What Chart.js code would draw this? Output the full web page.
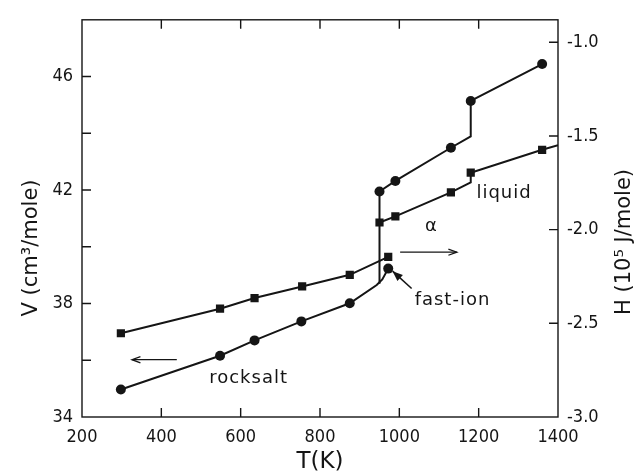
<!DOCTYPE html>
<html>
<head>
<meta charset="utf-8">
<script src="https://cdn.jsdelivr.net/npm/chart.js@4/dist/chart.umd.min.js"></script>
<style>
html,body{margin:0;background:#fff}
#c{display:block}
</style>
</head>
<body>
<canvas id="c" width="636" height="472"></canvas>
<script>
// volume, rocksalt -> fast-ion branch (circles, left axis); 0 = no marker
const solidT   = [298, 548, 635, 753, 875, 943, 957, 972];
const solidV   = [34.97, 36.16, 36.70, 37.37, 38.01, 38.65, 38.85, 39.23];
const solidVPt = [1, 1, 1, 1, 1, 0, 0, 1];
// volume, liquid branch
const liqT   = [950, 950, 990, 1130, 1180, 1180, 1360];
const liqV   = [38.70, 41.95, 42.32, 43.49, 43.89, 45.14, 46.44];
const liqVPt = [0, 1, 1, 1, 0, 1, 1];
// enthalpy (squares, right axis)
const solidHT = [298, 548, 635, 755, 875, 972];
const solidH  = [-2.553, -2.422, -2.365, -2.303, -2.241, -2.145];
const liqHT  = [950, 990, 1130, 1180, 1180, 1360, 1400];
const liqH   = [-1.962, -1.929, -1.801, -1.748, -1.696, -1.574, -1.550];
const liqHPt = [1, 1, 1, 0, 1, 1, 0];

const tTicks = [200, 400, 600, 800, 1000, 1200, 1400];
const vTicks = [34, 36, 38, 40, 42, 44, 46];
const vLabels = [34, 38, 42, 46];
const hTicks = [-3.0, -2.5, -2.0, -1.5, -1.0];

const INK = '#151515';
const FONT = '"DejaVu Sans Condensed", "DejaVu Sans", sans-serif';
const WIDE = '"DejaVu Sans", sans-serif';

const pts = (T, Y) => T.map((t, i) => ({x: t, y: Y[i]}));

function line(T, Y, marks, axis, style, r) {
  return {
    data: pts(T, Y),
    yAxisID: axis,
    borderColor: INK,
    backgroundColor: INK,
    borderWidth: 2,
    tension: 0,
    pointStyle: style,
    pointRadius: marks ? marks.map(m => m ? r : 0) : r,
    pointBorderWidth: 0,
    pointBackgroundColor: INK
  };
}

function arrow(ctx, x1, y1, x2, y2, filled) {
  const a = Math.atan2(y2 - y1, x2 - x1);
  ctx.beginPath();
  ctx.moveTo(x1, y1);
  ctx.lineTo(x2, y2);
  ctx.stroke();
  if (filled) {
    const L = 11, W = 0.38;
    ctx.beginPath();
    ctx.moveTo(x2, y2);
    ctx.lineTo(x2 - L * Math.cos(a - W), y2 - L * Math.sin(a - W));
    ctx.lineTo(x2 - L * Math.cos(a + W), y2 - L * Math.sin(a + W));
    ctx.closePath();
    ctx.fill();
  } else {
    const L = 9, W = 0.35;
    ctx.beginPath();
    ctx.moveTo(x2 - L * Math.cos(a - W), y2 - L * Math.sin(a - W));
    ctx.lineTo(x2, y2);
    ctx.lineTo(x2 - L * Math.cos(a + W), y2 - L * Math.sin(a + W));
    ctx.stroke();
  }
}

// frame, inward tick marks, axis titles and the in-plot notes
const decor = {
  id: 'decor',
  afterDraw(chart) {
    const {ctx, chartArea: ca, scales} = chart;
    const x = scales.x, yV = scales.yV, yH = scales.yH;
    const tl = 9;
    ctx.save();
    ctx.strokeStyle = INK;
    ctx.fillStyle = INK;
    ctx.lineWidth = 1.4;
    ctx.strokeRect(ca.left, ca.top, ca.right - ca.left, ca.bottom - ca.top);
    ctx.beginPath();
    tTicks.slice(1, -1).forEach(v => {
      const px = x.getPixelForValue(v);
      ctx.moveTo(px, ca.bottom); ctx.lineTo(px, ca.bottom - tl);
      ctx.moveTo(px, ca.top); ctx.lineTo(px, ca.top + tl);
    });
    vTicks.slice(1).forEach(v => {
      const py = yV.getPixelForValue(v);
      ctx.moveTo(ca.left, py); ctx.lineTo(ca.left + tl, py);
    });
    hTicks.slice(1).forEach(v => {
      const py = yH.getPixelForValue(v);
      ctx.moveTo(ca.right, py); ctx.lineTo(ca.right - tl, py);
    });
    ctx.stroke();

    // axis titles
    ctx.textAlign = 'center';
    ctx.textBaseline = 'middle';
    ctx.font = '21px ' + WIDE;
    ctx.save();
    ctx.translate(32, 248);
    ctx.rotate(-Math.PI / 2);
    ctx.fillText('V (cm³/mole)', 0, 0);
    ctx.restore();
    ctx.save();
    ctx.translate(625, 242);
    ctx.rotate(-Math.PI / 2);
    ctx.fillText('H (10⁵ J/mole)', 0, 0);
    ctx.restore();
    ctx.font = '23px ' + WIDE;
    ctx.fillText('T(K)', (ca.left + ca.right) / 2, 462);

    // notes placed in data coordinates
    const X = t => x.getPixelForValue(t), Y = v => yV.getPixelForValue(v);
    ctx.font = '18px ' + WIDE;
    ctx.letterSpacing = '1px';
    ctx.textBaseline = 'alphabetic';
    ctx.fillText('rocksalt', X(620), Y(35.19));
    ctx.fillText('fast-ion', X(1134), Y(37.95));
    ctx.fillText('liquid', X(1264), Y(41.72));
    ctx.fillText('α', X(1081), Y(40.56));
    ctx.letterSpacing = '0px';
    ctx.lineWidth = 1.3;
    arrow(ctx, X(439), Y(36.02), X(326), Y(36.02), false);
    arrow(ctx, X(1002), Y(39.81), X(1145), Y(39.81), false);
    ctx.lineWidth = 1.6;
    arrow(ctx, X(1031), Y(38.53), X(983), Y(39.14), true);
    ctx.restore();
  }
};

const tickFont = {family: FONT, size: 18};

new Chart(document.getElementById('c'), {
  type: 'line',
  data: {
    datasets: [
      line(solidT, solidV, solidVPt, 'yV', 'circle', 5),
      line(liqT, liqV, liqVPt, 'yV', 'circle', 5),
      line(solidHT, solidH, null, 'yH', 'rect', 5.8),
      line(liqHT, liqH, liqHPt, 'yH', 'rect', 5.8)
    ]
  },
  options: {
    responsive: false,
    animation: false,
    events: [],
    layout: {padding: {top: 13, left: 0, right: 0, bottom: 0}},
    plugins: {legend: {display: false}, tooltip: {enabled: false}},
    scales: {
      x: {
        type: 'linear', position: 'bottom', min: 200, max: 1400,
        afterBuildTicks: s => { s.ticks = tTicks.map(v => ({value: v})); },
        afterFit: s => { s.height = 55; },
        grid: {display: false, drawTicks: false},
        border: {display: false},
        ticks: {padding: 10, font: tickFont, color: INK, autoSkip: false, maxRotation: 0,
                callback: v => String(v)}
      },
      yV: {
        type: 'linear', position: 'left', min: 34, max: 48,
        afterBuildTicks: s => { s.ticks = vTicks.map(v => ({value: v})); },
        afterFit: s => { s.width = 82; },
        grid: {display: false, drawTicks: false},
        border: {display: false},
        ticks: {padding: 9, font: tickFont, color: INK, autoSkip: false,
                callback: v => vLabels.includes(v) ? String(v) : ''}
      },
      yH: {
        type: 'linear', position: 'right', min: -3.0, max: -0.88,
        afterBuildTicks: s => { s.ticks = hTicks.map(v => ({value: v})); },
        afterFit: s => { s.width = 78; },
        grid: {display: false, drawTicks: false},
        border: {display: false},
        ticks: {padding: 9, font: tickFont, color: INK, autoSkip: false,
                callback: v => v.toFixed(1)}
      }
    }
  },
  plugins: [decor]
});
</script>
</body>
</html>
